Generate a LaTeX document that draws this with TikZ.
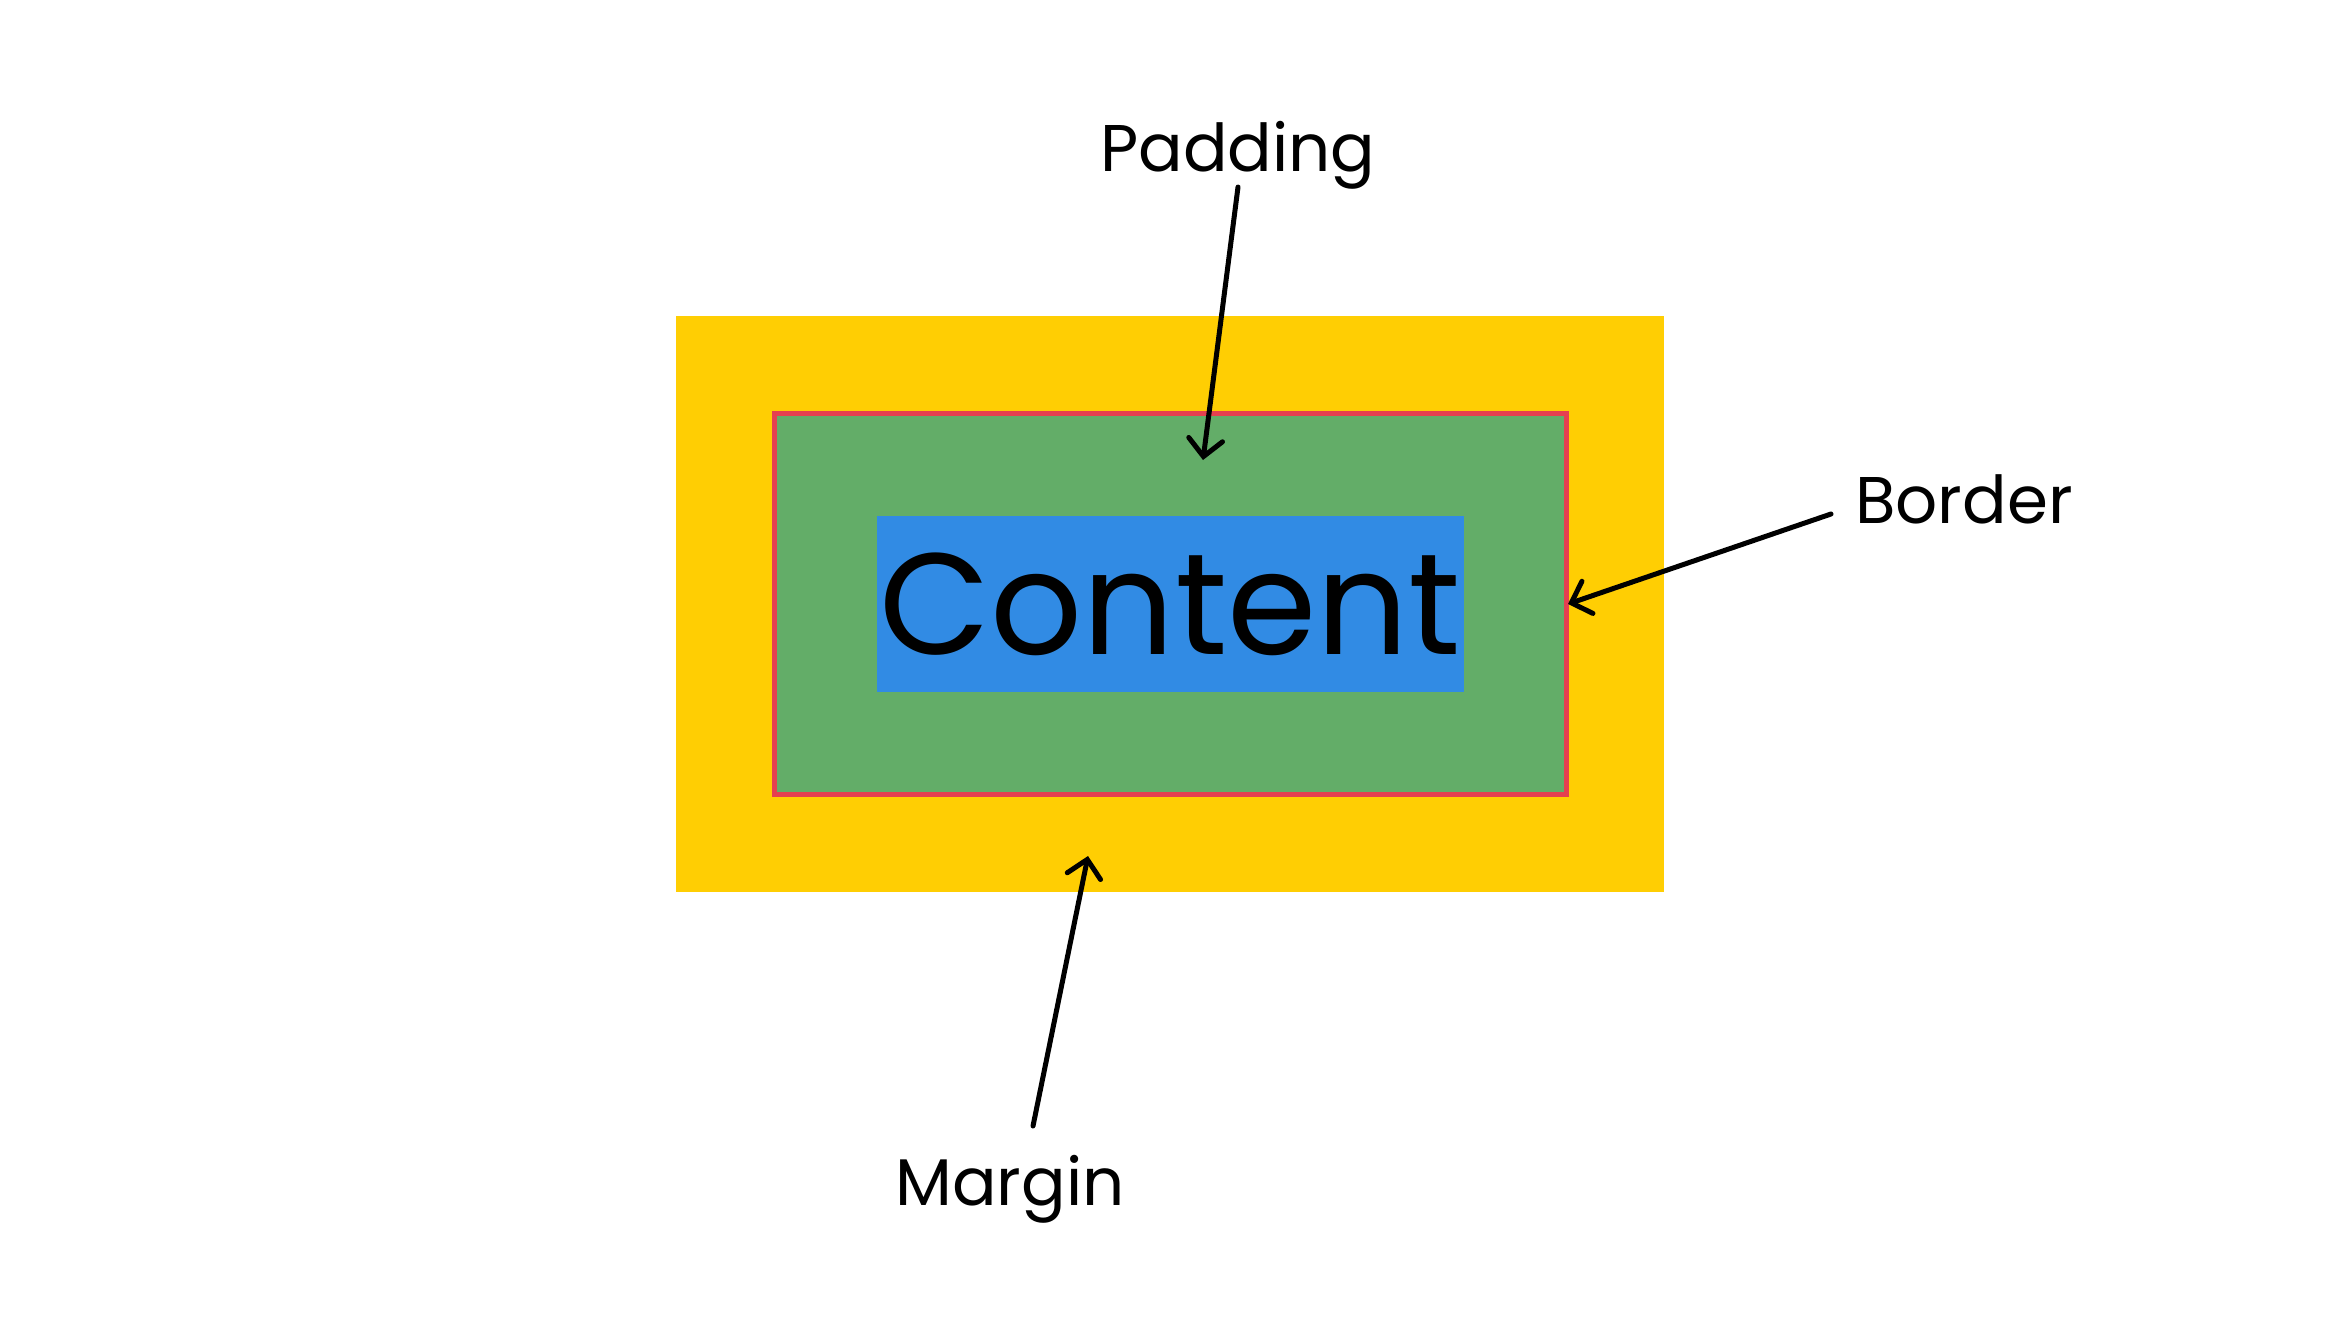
\documentclass[tikz,border=0pt]{standalone}
\usepackage{fontspec}
\setmainfont{Poppins}
\usetikzlibrary{positioning,arrows.meta}
\definecolor{marginyellow}{RGB}{255,206,3}
\definecolor{paddinggreen}{RGB}{99,173,104}
\definecolor{contentblue}{RGB}{49,139,228}
\definecolor{borderred}{RGB}{229,64,80}

\begin{document}
\begin{tikzpicture}[x=1pt,y=-1pt,line width=5pt,
    box/.style={inner sep=0pt,outer sep=0pt,anchor=center},
    lbl/.style={inner sep=0pt,anchor=base,font=\fontsize{66}{70}\selectfont},
    pointer/.style={-{Straight Barb[length=17pt,width=34pt,line cap=round]},line cap=round}]
 \useasboundingbox (0,0) rectangle (2341,1328);

 \node[box,fill=marginyellow,minimum width=988pt,minimum height=576pt] (margin) at (1170,604) {};
 \node[box,fill=paddinggreen,draw=borderred,minimum width=792pt,minimum height=381pt] (border) at (1170.5,604) {};
 \node[box,fill=contentblue,minimum width=587pt,minimum height=176pt,
   font=\fontsize{144}{150}\selectfont] (content) at (1170.5,604) {\raisebox{-4pt}{Content}};

 \node[lbl] (padlbl) at (1238,171) {Padding};
 \node[lbl] (borderlbl) at (1964,523) {Border};
 \node[lbl] (marginlbl) at (1010,1205) {Margin};

 \coordinate (padtip) at (1203,460);
 \coordinate (bordertip) at (1568,604);
 \coordinate (margintip) at (1088,856);

 \draw[pointer] (1238,187) -- (padtip);
 \draw[pointer] (1831,514) -- (bordertip);
 \draw[pointer] (1033,1126) -- (margintip);
\end{tikzpicture}
\end{document}
